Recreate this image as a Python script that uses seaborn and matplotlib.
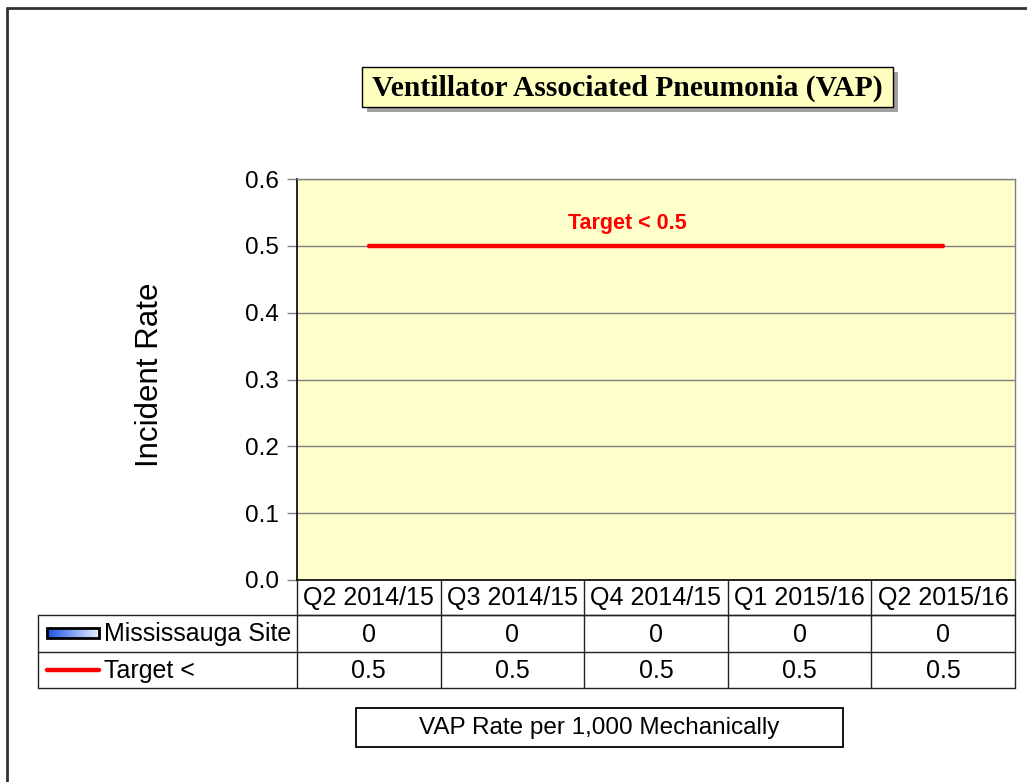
import numpy as np
import matplotlib
matplotlib.use("Agg")
import matplotlib.pyplot as plt
import seaborn as sns
from matplotlib.patches import Rectangle
from matplotlib.lines import Line2D

# data
quarters = ["Q2 2014/15", "Q3 2014/15", "Q4 2014/15", "Q1 2015/16", "Q2 2015/16"]
site_rate = [0, 0, 0, 0, 0]
target_rate = [0.5, 0.5, 0.5, 0.5, 0.5]
series_names = ["Mississauga Site", "Target <"]
y_ticks = [0.0, 0.1, 0.2, 0.3, 0.4, 0.5, 0.6]

sns.set_style("white")
plt.rcParams['font.family'] = ['Liberation Sans', 'DejaVu Sans']
plt.rcParams['text.color'] = 'black'
plt.rcParams['ytick.color'] = 'black'
plt.rcParams['xtick.color'] = 'black'

W, H = 1027, 782
fig = plt.figure(figsize=(W / 100, H / 100), dpi=100)

# plot area in pixels
px_l, px_r, px_t, px_b = 297, 1015, 179, 580
ax = fig.add_axes([px_l / W, 1 - px_b / H, (px_r - px_l) / W, (px_b - px_t) / H])
ax.set_facecolor("#FFFFCC")

sns.barplot(x=quarters, y=site_rate, ax=ax, color="#3366FF", linewidth=0)
sns.lineplot(x=np.arange(len(quarters)), y=target_rate, ax=ax, color="red", linewidth=3.2)

ax.set_xlim(-0.5, len(quarters) - 0.5)
ax.set_ylim(0, 0.6)
ax.set_yticks(y_ticks)
ax.set_yticklabels([f"{v:.1f}" for v in y_ticks], fontsize=17.5, color="black")
ax.yaxis.grid(True, color="#808080", linewidth=1)
ax.set_axisbelow(True)
ax.set_xlabel("")
ax.set_ylabel("")
ax.tick_params(axis="x", bottom=False, labelbottom=False)
ax.tick_params(axis="y", left=True, length=7, width=1, color="#808080", pad=6)
for s in ["top", "right"]:
    ax.spines[s].set_color("#808080")
    ax.spines[s].set_linewidth(1)
for s in ["left", "bottom"]:
    ax.spines[s].set_color("black")
    ax.spines[s].set_linewidth(1.2)

ax.text(1.8, target_rate[0] + 0.018, f"Target < {target_rate[0]}",
        color="red", fontsize=15.5, fontweight="bold", ha="center", va="bottom")

fig.text(150 / W, 1 - 375 / H, "Incident Rate", rotation=90, fontsize=22.5,
         ha="center", va="center", color="black")

# overlay in pixel coordinates for table, title box, frame
ov = fig.add_axes([0, 0, 1, 1], facecolor="none")
ov.set_xlim(0, W)
ov.set_ylim(H, 0)
ov.axis("off")

# outer frame (top & left visible)
ov.add_line(Line2D([7, W], [8, 8], color="#333333", lw=2))
ov.add_line(Line2D([7, 7], [8, H], color="#333333", lw=2))

# title box with shadow
ov.add_patch(Rectangle((367, 72), 531, 40, facecolor="#A0A0A0", edgecolor="none"))
ov.add_patch(Rectangle((362, 67), 531, 40, facecolor="#FFFFC0", edgecolor="black", lw=1))
ov.text(627, 88, "Ventillator Associated Pneumonia (VAP)", fontsize=21.3, fontweight="bold",
        family=["Liberation Serif", "DejaVu Serif"], ha="center", va="center", color="black")

# data table
n = len(quarters)
col_w = (px_r - px_l) / n
tbl_l = 38
rows_y = [px_b, 615, 652, 688]
lc = "#222222"
fs = 18
# header row
ov.add_line(Line2D([px_l, px_r], [rows_y[1], rows_y[1]], color=lc, lw=1))
for i in range(n + 1):
    x = px_l + i * col_w
    ov.add_line(Line2D([x, x], [rows_y[0], rows_y[3]], color=lc, lw=1))
for i, q in enumerate(quarters):
    ov.text(px_l + (i + 0.5) * col_w, (rows_y[0] + rows_y[1]) / 2 + 1, q,
            fontsize=fs, ha="center", va="center", color="black")
# body rows
for y in rows_y[1:]:
    ov.add_line(Line2D([tbl_l, px_r], [y, y], color=lc, lw=1))
ov.add_line(Line2D([tbl_l, tbl_l], [rows_y[1], rows_y[3]], color=lc, lw=1))
for r, vals in enumerate([site_rate, target_rate]):
    yc = (rows_y[r + 1] + rows_y[r + 2]) / 2 + 1
    ov.text(104, yc, series_names[r], fontsize=fs, ha="left", va="center", color="black")
    for i, v in enumerate(vals):
        ov.text(px_l + (i + 0.5) * col_w, yc, f"{v:g}", fontsize=fs, ha="center", va="center",
                color="black")

# legend keys
grad = np.linspace(0, 1, 64).reshape(1, -1)
cmap = matplotlib.colors.LinearSegmentedColormap.from_list("g", ["#1A55E6", "#E8EEFF"])
ov.imshow(grad, cmap=cmap, extent=(47, 99, 638, 628), aspect="auto", zorder=2)
ov.add_patch(Rectangle((47, 628), 52, 10, facecolor="none", edgecolor="black", lw=2, zorder=3))
ov.add_line(Line2D([47, 99], [670, 670], color="red", lw=3.2))
ov.set_xlim(0, W)
ov.set_ylim(H, 0)

# bottom caption box
ov.add_patch(Rectangle((356, 708), 487, 39, facecolor="white", edgecolor="black", lw=1.3))
ov.text(599, 728, "VAP Rate per 1,000 Mechanically", fontsize=17.5, ha="center", va="center",
        color="black")

fig.savefig("out.png", dpi=100)
